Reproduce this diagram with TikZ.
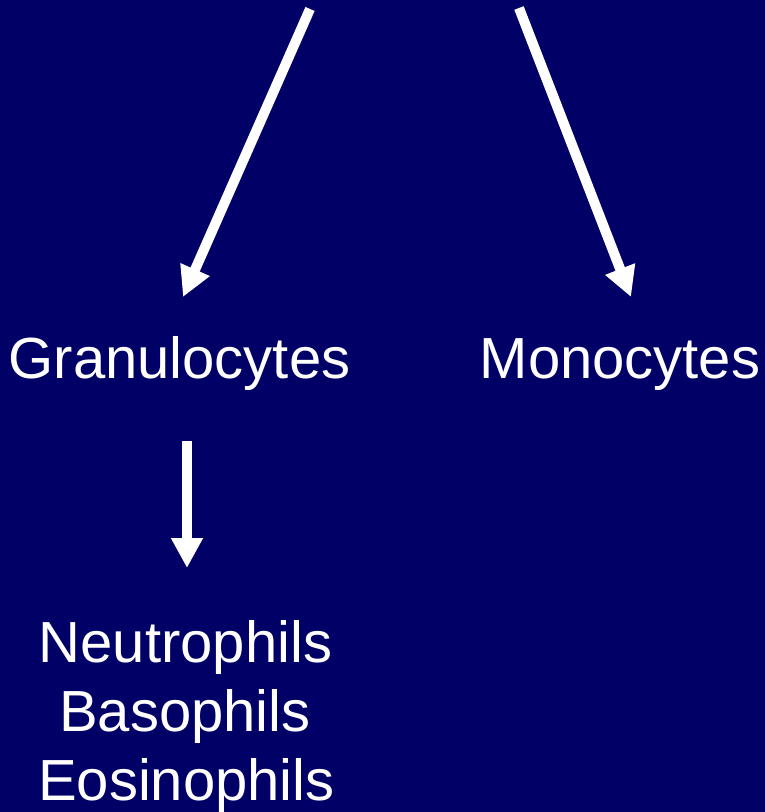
\documentclass[tikz,border=0pt]{standalone}
\usepackage{fontspec}
\setmainfont{Liberation Sans}
\usetikzlibrary{arrows.meta}
\definecolor{bgnavy}{HTML}{000066}
\tikzset{
  lbl/.style={text=white, inner sep=0pt, anchor=base, font=\fontsize{58}{69}\selectfont},
  bigarrow/.style={draw=white, line width=10pt, -{Triangle[width=30pt,length=30pt]}},
}
\begin{document}
\begin{tikzpicture}[x=1pt,y=-1pt]
\fill[bgnavy] (0,0) rectangle (765,812);
\useasboundingbox (0,0) rectangle (765,812);
\coordinate (ls) at (310,9);
\coordinate (le) at (183,297);
\coordinate (rs) at (519,8);
\coordinate (re) at (631,297);
\coordinate (vs) at (187,441);
\coordinate (ve) at (187,568);
\node[lbl] (gran) at (179.5,378) {Granulocytes};
\node[lbl] (mono) at (620,378) {Monocytes};
\node[lbl] (neu) at (185.5,662) {Neutrophils};
\node[lbl] (bas) at (185,731) {Basophils};
\node[lbl] (eos) at (186.5,800) {Eosinophils};
\draw[bigarrow] (ls) -- (le);
\draw[bigarrow] (rs) -- (re);
\draw[bigarrow] (vs) -- (ve);
\end{tikzpicture}
\end{document}
